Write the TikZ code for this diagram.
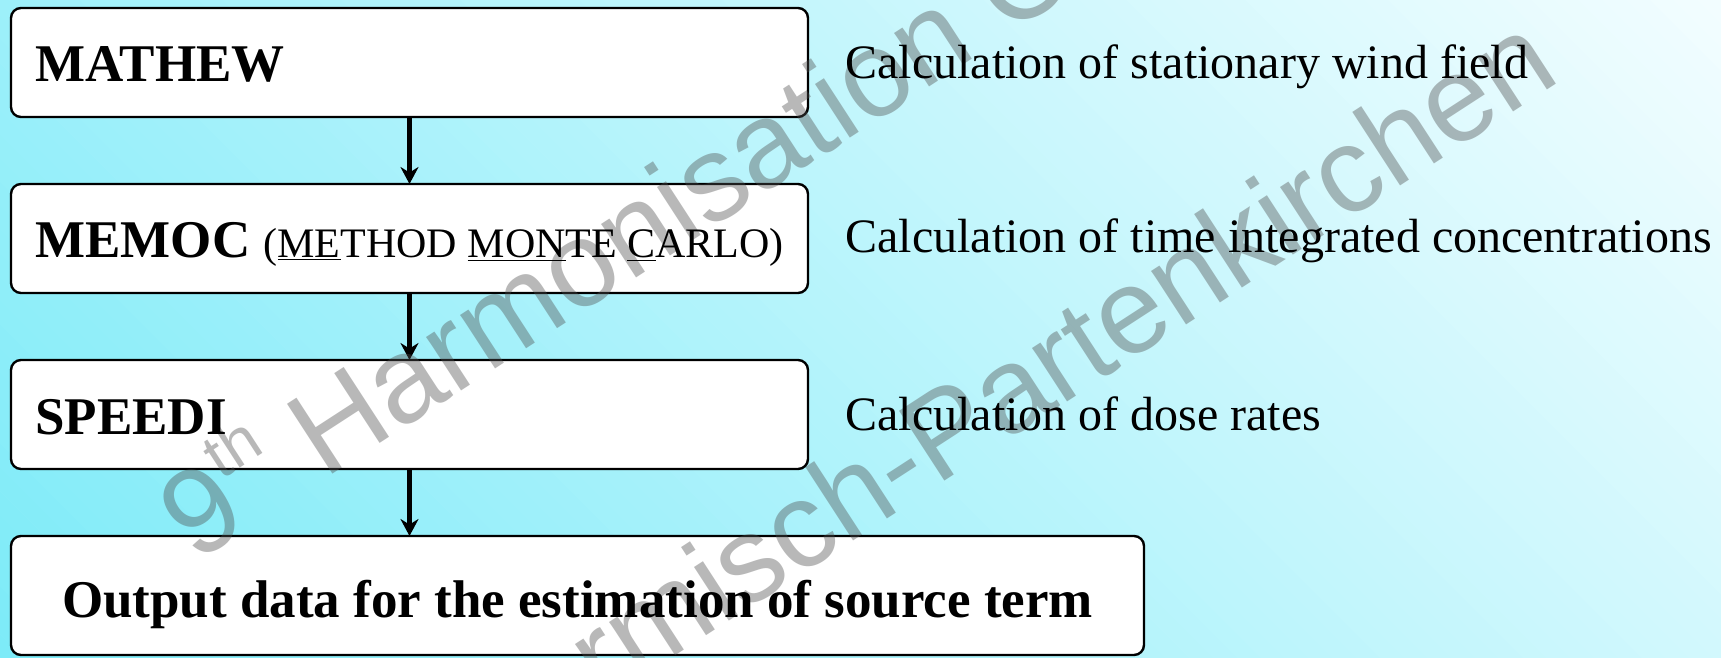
\documentclass[tikz,border=0pt]{standalone}
\usepackage{fontspec}
\setmainfont{Liberation Serif}
\newfontfamily\wmfont{Liberation Sans}
\usetikzlibrary{arrows.meta}
\definecolor{bgdark}{RGB}{125,235,248}
\definecolor{bglight}{RGB}{242,253,255}
\begin{document}
\begin{tikzpicture}[x=0.5pt,y=-0.5pt,
  box/.style={draw=black, line width=1.2pt, fill=white, rounded corners=5pt,
    inner sep=0pt, outer sep=0pt, minimum width=398.5pt, minimum height=54.5pt},
  lbl/.style={anchor=base west, inner sep=0pt, font=\fontsize{26.5}{30}\selectfont\bfseries},
  desc/.style={anchor=base west, inner sep=0pt, font=\fontsize{24}{28}\selectfont},
  flow/.style={line width=2.1pt, -{Stealth[length=8.5pt,width=9pt,inset=2.8pt]}},
  wm/.style={inner sep=0pt, rotate=33, text=black!69, text opacity=0.4,
    font=\wmfont\fontsize{60.5}{70}\selectfont}
]
\path[use as bounding box] (0,0) rectangle (1721,658);
% background gradient
\begin{scope}
\clip (0,0) rectangle (1721,658);
\foreach \k in {0,...,99} {
  \pgfmathsetmacro\ta{-658+\k*23.79}
  \pgfmathsetmacro\tb{\ta+24.5}
  \pgfmathsetmacro\p{100-\k*100/99}
  \fill[bgdark!\p!bglight] (\ta-700,-700) -- (\ta+1400,1400) -- (\tb+1400,1400) -- (\tb-700,-700) -- cycle;
}
\end{scope}
% boxes
\node[box] (mathew) at (409.5,62.5) {};
\node[box] (memoc) at (409.5,238.5) {};
\node[box] (speedi) at (409.5,414.5) {};
\node[box, minimum width=566.5pt, minimum height=59.5pt] (output) at (577.5,595.5) {};
% arrows
\draw[flow] (mathew.south) -- (memoc.north);
\draw[flow] (memoc.south) -- (speedi.north);
\draw[flow] (speedi.south) -- (speedi.south |- output.north);
% watermark
\begin{scope}
\clip (0,0) rectangle (1721,658);
\node[wm, anchor=base west] (wm1) at (195,564) {9\raisebox{0.46em}{\fontsize{32}{34}\selectfont th} Harmonisation Conference};
\node[wm, anchor=base east] (wm2) at (1563,80) {Garmisch-Partenkirchen};
\end{scope}
% texts
\node[lbl] (tmathew) at (35,82) {MATHEW};
\node[lbl] (tmemoc) at (35,257) {MEMOC \fontsize{21}{24}\selectfont\mdseries (\underline{ME}THOD \underline{MON}TE \underline{C}ARLO)};
\node[lbl] (tspeedi) at (35,434) {SPEEDI};
\node[lbl, anchor=base] (toutput) at (577.5,617) {Output data for the estimation of source term};
\node[desc] (d1) at (845,79) {Calculation of stationary wind field};
\node[desc] (d2) at (845,253) {Calculation of time integrated concentrations};
\node[desc] (d3) at (845,430) {Calculation of dose rates};
\end{tikzpicture}
\end{document}
